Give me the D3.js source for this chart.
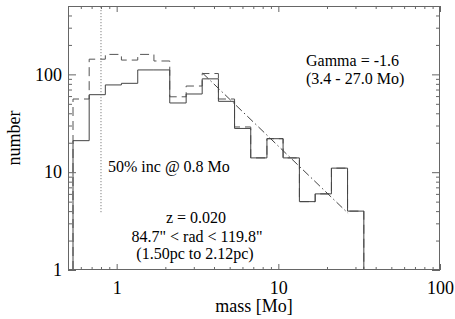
<!DOCTYPE html>
<html>
<head>
<meta charset="utf-8">
<script src="https://cdn.jsdelivr.net/npm/d3@7/dist/d3.min.js"></script>
<style>
  html, body { margin: 0; padding: 0; background: #fff; }
  svg { display: block; }
  text { font-family: "Liberation Serif", "DejaVu Serif", serif; fill: #000; }
</style>
</head>
<body>
<div id="chart"></div>
<script>
// ---- data ----
const binEdges = [0.537, 0.676, 0.851, 1.07, 1.35, 1.70, 2.13, 2.69, 3.38, 4.26, 5.36, 6.75, 8.50, 10.7, 13.5, 16.9, 21.3, 26.8, 33.8, 42.6];
const solidCounts  = [21, 62, 78, 81, 111, 111, 51, 63, 90, 53, 28, 14, 22, 14, 5, 6, 11, 4, 0];
const dashedCounts = [56, 143, 160, 140, 160, 137, 59, 76, 102, 56, 29, 14, 22, 14, 5, 6, 11, 4, 0];
const fitMass  = [3.4, 27.0];
const fitCount = [103, 3.8];
const incMass = 0.8;
const incRange = [3.9, 500];
const xMajorTicks = [1, 10, 100];
const xMinorTicks = [0.6, 0.7, 0.8, 0.9, 2, 3, 4, 5, 6, 7, 8, 9, 20, 30, 40, 50, 60, 70, 80, 90];
const yMajorTicks = [1, 10, 100];
const yMinorTicks = [2, 3, 4, 5, 6, 7, 8, 9, 20, 30, 40, 50, 60, 70, 80, 90, 200, 300, 400];
const xDomain = [0.5, 100];
const yDomain = [1, 500];
const annotations = [
  {text: "Gamma = -1.6", x: 306, y: 66, anchor: "start"},
  {text: "(3.4 - 27.0 Mo)", x: 306, y: 84, anchor: "start"},
  {text: "50% inc @ 0.8 Mo", x: 108, y: 172, anchor: "start"},
  {text: "z = 0.020", x: 196, y: 223, anchor: "middle"},
  {text: "84.7\" < rad < 119.8\"", x: 197, y: 242, anchor: "middle"},
  {text: "(1.50pc to 2.12pc)", x: 195, y: 259, anchor: "middle"}
];

// ---- drawing ----
const SERIF = "Liberation Serif, DejaVu Serif, serif";
const W = 455, H = 319;
const L = 68, R = 440, T = 6, B = 270;
const svg = d3.select("#chart").append("svg").attr("width", W).attr("height", H);
svg.append("rect").attr("width", W).attr("height", H).attr("fill", "#fff");

const x = d3.scaleLog().domain(xDomain).range([L, R]);
const y = d3.scaleLog().domain(yDomain).range([B, T]);
const yv = v => v > 0 ? y(v) : B;

svg.append("clipPath").attr("id", "clip").append("rect")
  .attr("x", L).attr("y", T).attr("width", R - L).attr("height", B - T);

const plot = svg.append("g").attr("clip-path", "url(#clip)");

function histPath(counts) {
  const p = d3.path();
  p.moveTo(x(binEdges[0]), B);
  counts.forEach((c, i) => {
    p.lineTo(x(binEdges[i]), yv(c));
    p.lineTo(x(binEdges[i + 1]), yv(c));
  });
  p.lineTo(x(binEdges[counts.length]), B);
  return p.toString();
}

plot.append("path").attr("d", histPath(dashedCounts))
  .attr("fill", "none").attr("stroke", "#555").attr("stroke-width", 1)
  .attr("stroke-dasharray", "9,5");
plot.append("path").attr("d", histPath(solidCounts))
  .attr("fill", "none").attr("stroke", "#444").attr("stroke-width", 1);

// fit line
plot.append("path")
  .attr("d", d3.line().x(d => x(d[0])).y(d => y(d[1]))(fitMass.map((m, i) => [m, fitCount[i]])))
  .attr("fill", "none").attr("stroke", "#444").attr("stroke-width", 1)
  .attr("stroke-dasharray", "8,3,1.5,3");

// dotted incompleteness line
plot.append("line")
  .attr("x1", x(incMass)).attr("x2", x(incMass))
  .attr("y1", y(incRange[0])).attr("y2", y(incRange[1]))
  .attr("stroke", "#666").attr("stroke-width", 1).attr("stroke-dasharray", "1,2");

// axes
function styleAxis(g) {
  g.select(".domain").remove();
  g.selectAll("line").attr("stroke", "#666");
}
const fmt = d => d3.format("d")(d);

svg.append("g").attr("transform", `translate(0,${B})`)
  .call(d3.axisBottom(x).tickValues(xMajorTicks).tickSize(-6).tickPadding(11).tickFormat(fmt))
  .call(styleAxis)
  .call(g => g.attr("font-family", SERIF).selectAll("text").attr("font-size", 18));
svg.append("g").attr("transform", `translate(0,${B})`)
  .call(d3.axisBottom(x).tickValues(xMinorTicks).tickSize(-3).tickFormat(""))
  .call(styleAxis);
svg.append("g").attr("transform", `translate(0,${T})`)
  .call(d3.axisTop(x).tickValues(xMajorTicks).tickSize(-6).tickFormat(""))
  .call(styleAxis);
svg.append("g").attr("transform", `translate(0,${T})`)
  .call(d3.axisTop(x).tickValues(xMinorTicks).tickSize(-3).tickFormat(""))
  .call(styleAxis);

svg.append("g").attr("transform", `translate(${L},0)`)
  .call(d3.axisLeft(y).tickValues(yMajorTicks).tickSize(-8).tickPadding(6).tickFormat(fmt))
  .call(styleAxis)
  .call(g => g.attr("font-family", SERIF).selectAll("text").attr("font-size", 18));
svg.append("g").attr("transform", `translate(${L},0)`)
  .call(d3.axisLeft(y).tickValues(yMinorTicks).tickSize(-4).tickFormat(""))
  .call(styleAxis);
svg.append("g").attr("transform", `translate(${R},0)`)
  .call(d3.axisRight(y).tickValues(yMajorTicks).tickSize(-8).tickFormat(""))
  .call(styleAxis);
svg.append("g").attr("transform", `translate(${R},0)`)
  .call(d3.axisRight(y).tickValues(yMinorTicks).tickSize(-4).tickFormat(""))
  .call(styleAxis);

// frame
svg.append("rect").attr("x", L + 0.5).attr("y", T + 0.5)
  .attr("width", R - L - 1).attr("height", B - T - 1)
  .attr("fill", "none").attr("stroke", "#666").attr("stroke-width", 1);

// axis titles
svg.append("text").attr("x", (L + R) / 2).attr("y", 312)
  .attr("text-anchor", "middle").attr("font-family", SERIF).attr("font-size", 18).text("mass [Mo]");
svg.append("text").attr("transform", "translate(20,138) rotate(-90)")
  .attr("text-anchor", "middle").attr("font-family", SERIF).attr("font-size", 18).text("number");

// annotations
svg.selectAll("text.ann").data(annotations).join("text")
  .attr("class", "ann")
  .attr("x", d => d.x).attr("y", d => d.y)
  .attr("text-anchor", d => d.anchor)
  .attr("font-family", SERIF)
  .attr("font-size", 16)
  .text(d => d.text);
</script>
</body>
</html>
